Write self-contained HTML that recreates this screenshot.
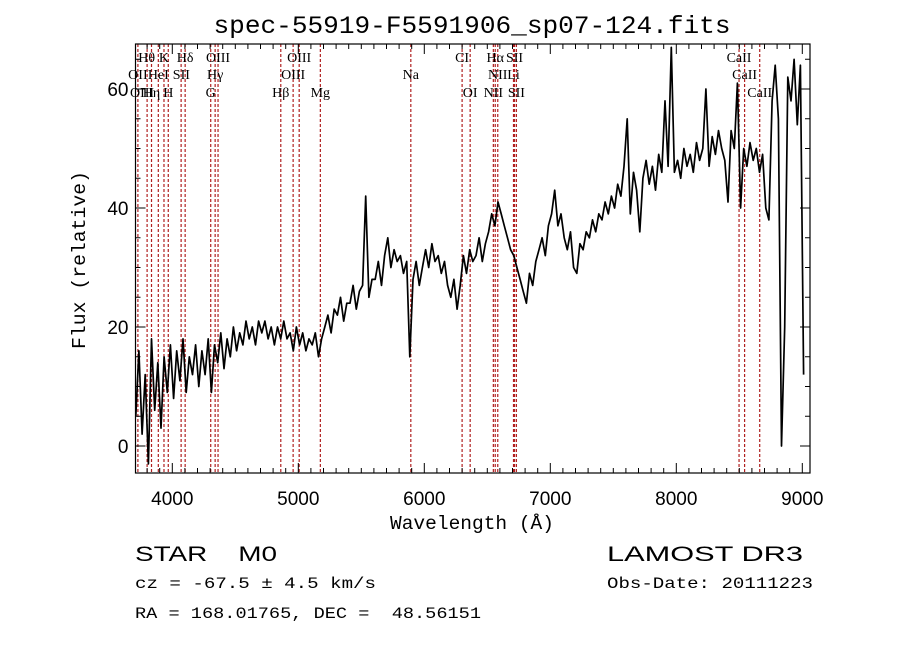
<!DOCTYPE html>
<html><head><meta charset="utf-8"><style>
html,body{margin:0;padding:0;background:#fff;}
svg{display:block;}
text{fill:#000;white-space:pre;}
</style></head><body>
<svg id="chart" width="900" height="649" viewBox="0 0 900 649" xmlns="http://www.w3.org/2000/svg" xml:space="preserve">
<rect width="900" height="649" fill="#fff"/>
<text x="472" y="33" text-anchor="middle" font-family="Liberation Mono, monospace" font-size="25" textLength="517" lengthAdjust="spacingAndGlyphs">spec-55919-F5591906_sp07-124.fits</text>
<g id="lines"></g>
<g id="spec"></g>
<g id="axes"></g>
<g id="labels"></g>
<text x="472" y="529" text-anchor="middle" font-family="Liberation Mono, monospace" font-size="19" textLength="164" lengthAdjust="spacingAndGlyphs">Wavelength (Å)</text>
<text transform="translate(85,260) rotate(-90)" text-anchor="middle" font-family="Liberation Mono, monospace" font-size="19" textLength="178" lengthAdjust="spacingAndGlyphs">Flux (relative)</text>
<text x="135" y="561" font-family="Liberation Sans, sans-serif" font-size="21" textLength="142" lengthAdjust="spacingAndGlyphs">STAR    M0</text>
<text x="607" y="561" font-family="Liberation Sans, sans-serif" font-size="21" textLength="196" lengthAdjust="spacingAndGlyphs">LAMOST DR3</text>
<text x="135" y="588" font-family="Liberation Mono, monospace" font-size="16" textLength="241" lengthAdjust="spacingAndGlyphs">cz = -67.5 ± 4.5 km/s</text>
<text x="607" y="588" font-family="Liberation Mono, monospace" font-size="16" textLength="206" lengthAdjust="spacingAndGlyphs">Obs-Date: 20111223</text>
<text x="135" y="618" font-family="Liberation Mono, monospace" font-size="16" textLength="346" lengthAdjust="spacingAndGlyphs">RA = 168.01765, DEC =  48.56151</text>
</svg>
<script>
const wlStart = 3710;
const wlStep = 25;
const flux = [
5,16,2,12, -3,18,6,14, 3,15,9,17, 8,16,11,18, 9,15,12,17, 10,16,12,18, 9,17,14,19, 13,18,15,20,
16,19,17,21, 18,20,17,21, 19,21,18,20, 17,20,18,21, 18,19,16,20, 17,19,16,18, 17,19,15,18, 20,22,19,23,
22,25,21,24, 24,27,23,26, 27,42,25,28, 28,31,27,32, 35,30,33,31, 32,29,31,15, 28,31,27,30, 33,30,34,31,
32,29,31,27, 25,28,23,27, 32,29,33,31, 32,35,31,34, 36,39,37,41, 39,37,35,33, 32,30,28,26, 24,29,27,31,
33,35,32,37, 39,43,37,39, 35,33,36,30, 29,34,33,36, 35,38,36,39, 38,41,39,42, 40,44,42,47, 55,39,46,43,
36,45,48,44, 47,43,49,46, 58,47,67,46, 48,45,50,47, 49,46,51,48, 50,60,47,52, 49,53,50,48, 41,53,50,61,
40,50,47,51, 48,50,46,49, 40,38,58,64, 55,0,20,62, 58,65,54,64, 12
];
const lineWaves = [3727,3800,3835,3889,3934,3968,4070,4102,4305,4340,4363,4861,4959,5007,5175,5893,6300,6364,6548,6563,6583,6708,6716,6731,8498,8542,8662];
const xTickLabels = ["4000","5000","6000","7000","8000","9000"];
const yTickLabels = ["0","20","40","60"];
const labelTexts = ["Hθ","K","Hδ","OIII","OIII","CI","Hα","SII","CaII","OII","HeI","SII","Hγ","OIII","Na","NII","Li","CaII","OIII","Hη","H","G","Hβ","Mg","OI","NII","SII","CaII"];
const labelWaves = [3797,3934,4102,4363,5007,6300,6563,6716,8498,3727,3889,4072,4340,4959,5893,6583,6708,8542,3760,3835,3968,4305,4861,5175,6364,6548,6731,8662];
const labelRows = [0,0,0,0,0,0,0,0,0,1,1,1,1,1,1,1,1,1,2,2,2,2,2,2,2,2,2,2];

const L=135.5,R=810,T=44,B=473;
const X=w=>172.3+(w-4000)*0.126;
const Y=v=>446-v*5.95;
const NS="http://www.w3.org/2000/svg";
function mk(tag,parent,attrs){const e=document.createElementNS(NS,tag);for(const k in attrs)e.setAttribute(k,attrs[k]);parent.appendChild(e);return e;}
const gL=document.getElementById('lines'),gS=document.getElementById('spec'),gA=document.getElementById('axes'),gT=document.getElementById('labels');
lineWaves.forEach(w=>{const ln=mk('line',gL,{x1:X(w),x2:X(w),y1:T,y2:B,stroke:'#b02020','stroke-width':1.2,'stroke-dasharray':'3,2'});

});
const clip=mk('clipPath',gS,{id:'pc'});mk('rect',clip,{x:L,y:T,width:R-L,height:B-T});
let d='';flux.forEach((v,i)=>{d+=(i?'L':'M')+X(wlStart+i*wlStep).toFixed(1)+','+Y(v).toFixed(1);});
const p=mk('path',gS,{d:d,fill:'none',stroke:'#000','stroke-width':1.7,'stroke-linejoin':'round','clip-path':'url(#pc)'});


const fr=mk('rect',gA,{x:L,y:T,width:R-L,height:B-T,fill:'none',stroke:'#000','stroke-width':1.2});


for(let w=3800;w<=9000;w+=100){const maj=w%1000===0;const len=maj?10:5;const x=X(w);
mk('line',gA,{x1:x,x2:x,y1:B,y2:B-len,stroke:'#000'});mk('line',gA,{x1:x,x2:x,y1:T,y2:T+len,stroke:'#000'});}
xTickLabels.forEach(s=>{const t=mk('text',gA,{x:X(+s),y:B+32,'text-anchor':'middle','font-family':'Liberation Sans, sans-serif','font-size':19});t.textContent=s;

});
for(let v=0;v<=65;v+=5){const maj=v%20===0;const len=maj?10:5;const y=Y(v);
mk('line',gA,{x1:L,x2:L+len,y1:y,y2:y,stroke:'#000'});mk('line',gA,{x1:R,x2:R-len,y1:y,y2:y,stroke:'#000'});}
yTickLabels.forEach(s=>{const t=mk('text',gA,{x:L-7,y:Y(+s)+7,'text-anchor':'end','font-family':'Liberation Sans, sans-serif','font-size':19});t.textContent=s;

});
const rowY=[62,79,97];
labelTexts.forEach((s,i)=>{const t=mk('text',gT,{x:X(labelWaves[i]),y:rowY[labelRows[i]],'text-anchor':'middle','font-family':'Liberation Serif, serif','font-size':14});t.textContent=s;

});
</script>
</body></html>
